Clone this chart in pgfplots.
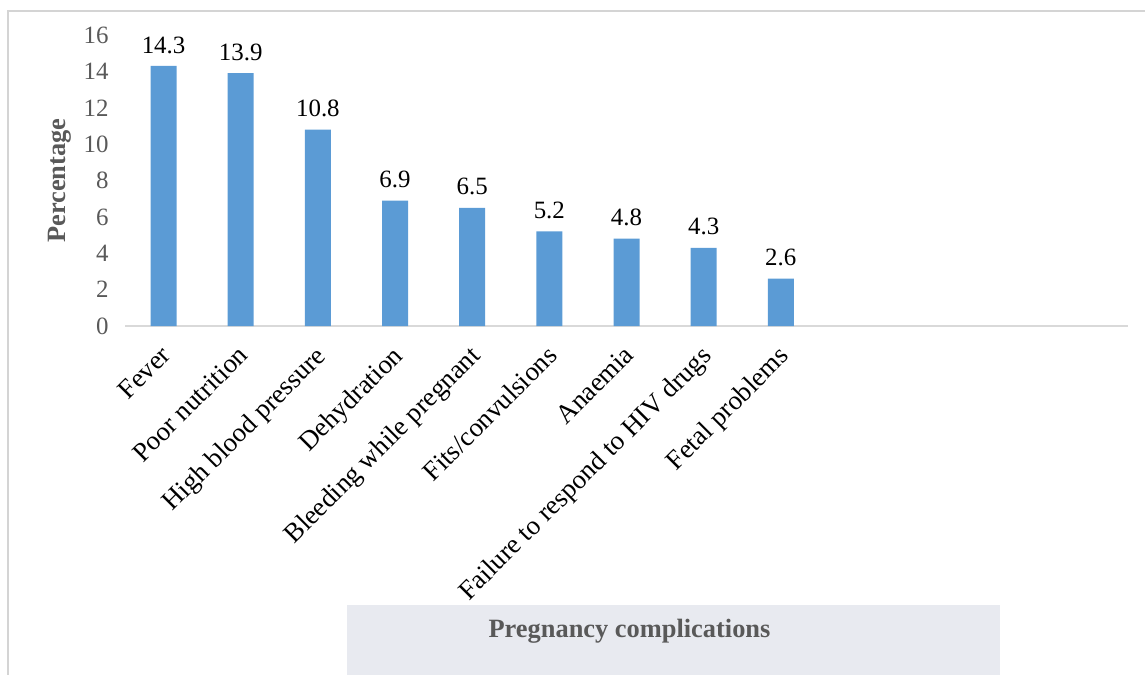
\documentclass[border=0pt]{standalone}
\usepackage{fontspec}
\setmainfont{Liberation Serif}
\usepackage{pgfplots}
\pgfplotsset{compat=1.18}
\definecolor{barblue}{HTML}{5B9BD5}
\definecolor{axgray}{HTML}{D9D9D9}
\definecolor{txtgray}{HTML}{595959}
\definecolor{framegray}{HTML}{D4D4D4}
\definecolor{wmgray}{HTML}{E8EAF0}
\begin{document}
\begin{tikzpicture}
\useasboundingbox (0,0) rectangle (1145bp,-675bp);
\fill[wmgray] (347bp,-605bp) rectangle (1000bp,-675bp);
\draw[framegray, line width=1.5bp] (8bp,-675bp) -- (8bp,-11bp) -- (1145bp,-11bp);
\begin{axis}[
  at={(125bp,-326bp)}, anchor=south west,
  scale only axis, width=1003bp, height=291bp,
  xmin=-0.5, xmax=12.5, ymin=0, ymax=16,
  clip=false,
  ybar, bar width=26bp,
  axis x line*=bottom, axis y line*=left,
  axis line style={-},
  x axis line style={axgray, line width=1.5bp},
  y axis line style={draw=none},
  tick style={draw=none},
  /pgf/number format/assume math mode=true,
  xtick={0,1,2,3,4,5,6,7,8},
  xticklabels={Fever, Poor nutrition, High blood pressure, Dehydration, Bleeding while pregnant, Fits/convulsions, Anaemia, Failure to respond to HIV drugs, Fetal problems},
  xticklabel style={xshift=-4bp, yshift=-11bp, rotate=45, anchor=north east, font=\fontsize{27}{30}\selectfont, text=black, inner sep=2bp},
  ytick={0,2,...,16},
  yticklabel style={font=\fontsize{25}{29}\selectfont, text=txtgray, xshift=-13bp},
  nodes near coords,
  every node near coord/.append style={font=\fontsize{25}{29}\selectfont, text=black, /pgf/number format/fixed, /pgf/number format/precision=1, /pgf/number format/fixed zerofill, yshift=9bp},
  xlabel={Pregnancy complications},
  xlabel style={at={(axis description cs:0.503,-1.048)}, anchor=center, font=\bfseries\fontsize{26.5}{30}\selectfont, text=txtgray},
  ylabel={Percentage},
  ylabel style={at={(axis description cs:-0.065,0.5)}, anchor=center, font=\bfseries\fontsize{26.5}{30}\selectfont, text=txtgray},
]
\addplot[fill=barblue, draw=none] coordinates {
  (0,14.3) (1,13.9) (2,10.8) (3,6.9) (4,6.5) (5,5.2) (6,4.8) (7,4.3) (8,2.6)
};
\end{axis}
\end{tikzpicture}
\end{document}
